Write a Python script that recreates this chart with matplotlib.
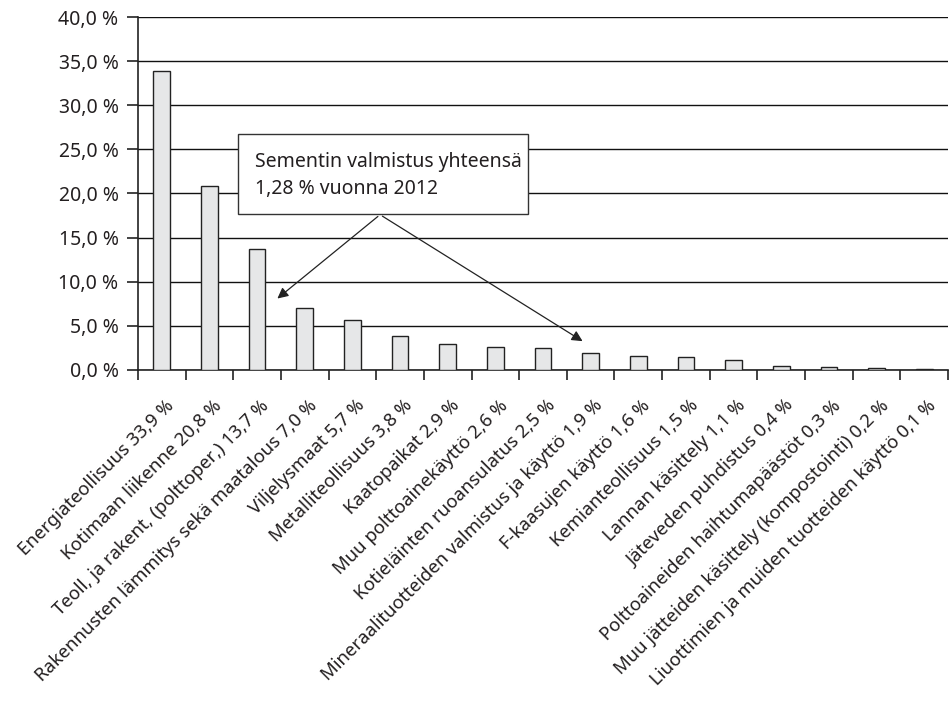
import matplotlib.pyplot as plt
import matplotlib.transforms as mtransforms
from matplotlib.patches import Rectangle
from matplotlib.ticker import FuncFormatter

# Emission sources and their shares (%)
sources = [
    "Energiateollisuus",
    "Kotimaan liikenne",
    "Teoll. ja rakent. (polttoper.)",
    "Rakennusten lämmitys sekä maatalous",
    "Viljelysmaat",
    "Metalliteollisuus",
    "Kaatopaikat",
    "Muu polttoainekäyttö",
    "Kotieläinten ruoansulatus",
    "Mineraalituotteiden valmistus ja käyttö",
    "F-kaasujen käyttö",
    "Kemianteollisuus",
    "Lannan käsittely",
    "Jäteveden puhdistus",
    "Polttoaineiden haihtumapäästöt",
    "Muu jätteiden käsittely (kompostointi)",
    "Liuottimien ja muiden tuotteiden käyttö",
]
shares = [33.9, 20.8, 13.7, 7.0, 5.7, 3.8, 2.9, 2.6, 2.5, 1.9, 1.6, 1.5, 1.1, 0.4, 0.3, 0.2, 0.1]
yticks = [0, 5, 10, 15, 20, 25, 30, 35, 40]
note_lines = ["Sementin valmistus yhteensä", "1,28 % vuonna 2012"]

plt.rcParams['font.family'] = ['Noto Sans', 'DejaVu Sans']
plt.rcParams['font.size'] = 13.3
plt.rcParams['text.color'] = '#231f20'
plt.rcParams['xtick.labelcolor'] = '#231f20'
plt.rcParams['ytick.labelcolor'] = '#231f20'

fig = plt.figure(figsize=(9.53, 7.01), dpi=100)
ax = fig.add_axes([138 / 953, 1 - 370 / 701, 810 / 953, 353 / 701])

x = list(range(len(shares)))
ax.bar(x, shares, width=0.35, color='#e6e7e8', edgecolor='#222222', linewidth=1.0, zorder=3)

ax.set_xlim(-0.5, len(shares) - 0.5)
ax.set_ylim(0, 40)
ax.set_yticks(yticks)
ax.yaxis.set_major_formatter(FuncFormatter(lambda v, p: f"{v:.1f} %".replace('.', ',')))
ax.yaxis.grid(True, color='#111111', linewidth=1.0, zorder=0)

# ticks between categories, labels rotated under each bar
ax.set_xticks([i - 0.5 for i in x] + [len(x) - 0.5])
ax.set_xticklabels([])
ax.set_xticks(x, minor=True)
labels = [f"{s} {v:.1f} %".replace('.', ',') for s, v in zip(sources, shares)]
ax.set_xticklabels(labels, minor=True, rotation=45, ha='right', rotation_mode='anchor')
ax.tick_params(axis='x', which='minor', length=0, pad=19)
ax.tick_params(axis='x', which='major', length=7, width=1.2, color='#222222')
ax.tick_params(axis='y', length=8, width=1.2, color='#222222', labelsize=14, pad=6)
shift = mtransforms.ScaledTranslation(3 / 100, 0, fig.dpi_scale_trans)
for lbl in ax.get_xticklabels(minor=True):
    lbl.set_transform(lbl.get_transform() + shift)

for side in ['top', 'right']:
    ax.spines[side].set_visible(False)
for side in ['left', 'bottom']:
    ax.spines[side].set_linewidth(1.2)
    ax.spines[side].set_color('#222222')

# callout for cement production
ax.annotate('', xy=(2.38, 7.9), xytext=(4.58, 17.6),
            arrowprops=dict(arrowstyle='-|>', color='#222222', lw=0.9, mutation_scale=16), zorder=5)
ax.annotate('', xy=(8.88, 3.1), xytext=(4.58, 17.6),
            arrowprops=dict(arrowstyle='-|>', color='#222222', lw=0.9, mutation_scale=16), zorder=5)
ax.add_patch(Rectangle((1.6, 17.7), 6.08, 9.05, facecolor='white', edgecolor='#333333',
                       linewidth=1.0, zorder=6))
ax.text(1.95, 23.6, note_lines[0], ha='left', va='center', fontsize=14, zorder=7)
ax.text(1.95, 20.5, note_lines[1], ha='left', va='center', fontsize=14, zorder=7)

fig.savefig('out.png', dpi=100)
